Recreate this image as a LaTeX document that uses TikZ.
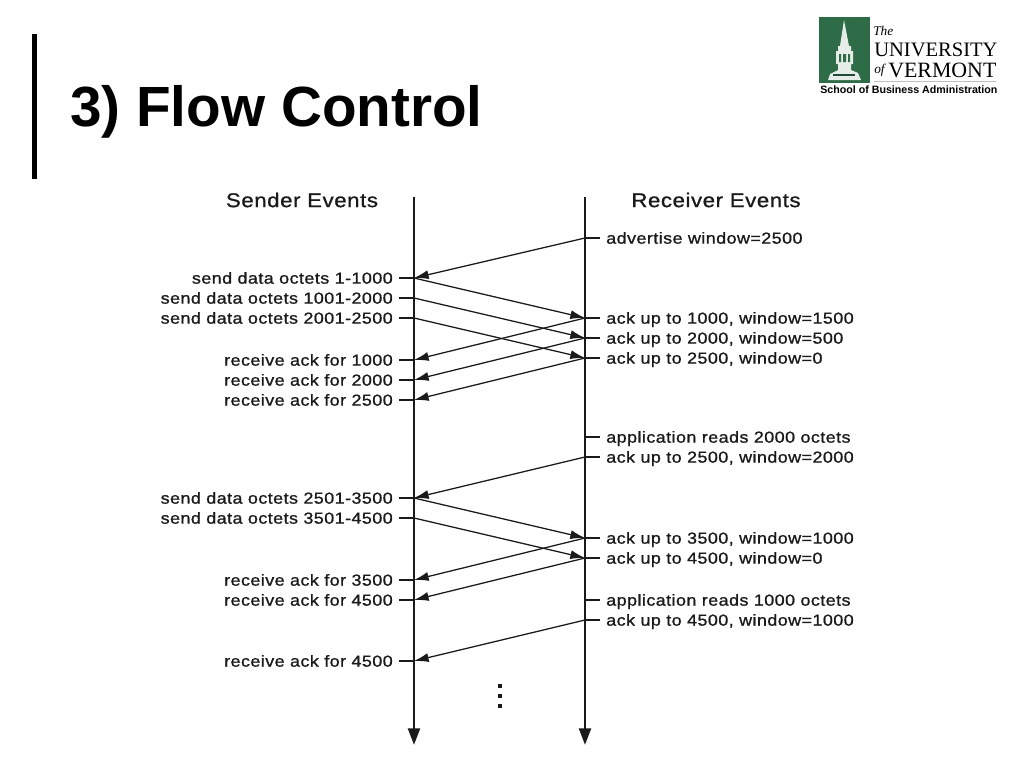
\documentclass[tikz,border=0pt]{standalone}
\usepackage{fontspec}
\setmainfont{Liberation Sans}
\newfontfamily\logoserif{Liberation Serif}
\newfontfamily\labelfont[FakeBold=0.9,FakeStretch=1.12,LetterSpace=2.8]{Liberation Sans}
\usetikzlibrary{arrows.meta}
\definecolor{uvmgreen}{HTML}{2E6B47}
\definecolor{ink}{HTML}{1A1A1A}
\tikzset{x=0.75pt,y=-0.75pt,
 lbl/.style={font=\labelfont\fontsize{12}{14}\selectfont,text=ink,inner sep=0pt,text height=8.5pt,text depth=0pt},
 hdr/.style={font=\labelfont\fontsize{14.9}{16}\selectfont,text=ink,inner sep=0pt,anchor=center},
 life/.style={line width=2.2pt,draw=ink,-{Triangle[length=12.5pt,width=8.8pt]}},
 tick/.style={line width=1.1pt,draw=ink},
 msg/.style={line width=0.95pt,draw=ink,-{Latex[length=11pt,width=6.8pt]}},
 dotm/.style={fill=ink,draw=none,minimum size=3pt,inner sep=0pt,rectangle}}
\newcommand{\sendrow}[3]{\coordinate (#1) at (414,#2);\coordinate (#1t) at (399,#2);
 \node[lbl,anchor=east] (#1l) at (393,#2) {#3};\draw[tick] (#1t) -- (#1);}
\newcommand{\recvrow}[3]{\coordinate (#1) at (585,#2);\coordinate (#1t) at (600,#2);
 \node[lbl,anchor=west] (#1l) at (606,#2) {#3};\draw[tick] (#1) -- (#1t);}
\begin{document}
\begin{tikzpicture}
\useasboundingbox (0,0) rectangle (1024,768);
\fill[white] (0,0) rectangle (1024,768);
% title
\fill[black] (32,34) rectangle (37,179);
\node[font=\fontsize{42.5}{48}\selectfont\bfseries,anchor=west,inner sep=0pt] (title) at (70,112) {3) Flow Control};
% logo
\fill[uvmgreen] (819,17) rectangle (870,83);
\fill[white!88!uvmgreen] (844,20) -- (849,46) -- (851,46) -- (851,51) -- (853,51) -- (853,64) -- (851,64) -- (851,70) -- (858,73) -- (861,80) -- (828,80) -- (830,74) -- (838,70) -- (838,64) -- (836,64) -- (836,51) -- (838,51) -- (838,46) -- (840,46) -- cycle;
\fill[uvmgreen] (839,54) rectangle (841,62) (843,54) rectangle (846,62) (848,54) rectangle (850,62);
\fill[uvmgreen!70!black] (833,74) rectangle (855,76);
\node[font=\logoserif\itshape\fontsize{10}{11}\selectfont,anchor=west,inner sep=0pt] (lthe) at (873,31) {The};
\node[font=\logoserif\fontsize{15.4}{17}\selectfont,anchor=west,inner sep=0pt] (luni) at (874,50) {UNIVERSITY};
\node[font=\logoserif\itshape\fontsize{10}{11}\selectfont,anchor=west,inner sep=0pt] (lof) at (874,70) {of};
\node[font=\logoserif\fontsize{16.4}{17}\selectfont,anchor=west,inner sep=0pt] (lver) at (888,70) {VERMONT};
\draw[gray!50,line width=0.4pt] (874,81.5) -- (996,81.5);
\node[font=\bfseries\fontsize{8}{9}\selectfont,anchor=west,inner sep=0pt] (lsch) at (820,90) {School of Business Administration};
% headers
\node[hdr] (hs) at (302,200) {Sender Events};
\node[hdr] (hr) at (716,200) {Receiver Events};
% lifelines
\coordinate (st) at (414,197); \coordinate (se) at (414,745);
\coordinate (rt) at (585,197); \coordinate (re) at (585,745);
\draw[life] (st) -- (se);
\draw[life] (rt) -- (re);
% sender rows
\sendrow{a}{278}{send data octets 1-1000}
\sendrow{b}{298}{send data octets 1001-2000}
\sendrow{c}{318}{send data octets 2001-2500}
\sendrow{d}{360}{receive ack for 1000}
\sendrow{e}{380}{receive ack for 2000}
\sendrow{f}{400}{receive ack for 2500}
\sendrow{g}{498}{send data octets 2501-3500}
\sendrow{h}{518}{send data octets 3501-4500}
\sendrow{i}{580}{receive ack for 3500}
\sendrow{j}{600}{receive ack for 4500}
\sendrow{k}{661}{receive ack for 4500}
% receiver rows
\recvrow{ra}{238}{advertise window=2500}
\recvrow{rb}{318}{ack up to 1000, window=1500}
\recvrow{rc}{338}{ack up to 2000, window=500}
\recvrow{rd}{358}{ack up to 2500, window=0}
\recvrow{re1}{437}{application reads 2000 octets}
\recvrow{rf}{457}{ack up to 2500, window=2000}
\recvrow{rg}{538}{ack up to 3500, window=1000}
\recvrow{rh}{558}{ack up to 4500, window=0}
\recvrow{ri}{600}{application reads 1000 octets}
\recvrow{rj}{620}{ack up to 4500, window=1000}
% messages
\draw[msg] (ra) -- (a);
\draw[msg] (a) -- (rb);
\draw[msg] (b) -- (rc);
\draw[msg] (c) -- (rd);
\draw[msg] (rb) -- (d);
\draw[msg] (rc) -- (e);
\draw[msg] (rd) -- (f);
\draw[msg] (rf) -- (g);
\draw[msg] (g) -- (rg);
\draw[msg] (h) -- (rh);
\draw[msg] (rg) -- (i);
\draw[msg] (rh) -- (j);
\draw[msg] (rj) -- (k);
% dots
\node[dotm] (d1) at (499.5,686) {};
\node[dotm] (d2) at (499.5,696) {};
\node[dotm] (d3) at (499.5,706) {};
\end{tikzpicture}
\end{document}
